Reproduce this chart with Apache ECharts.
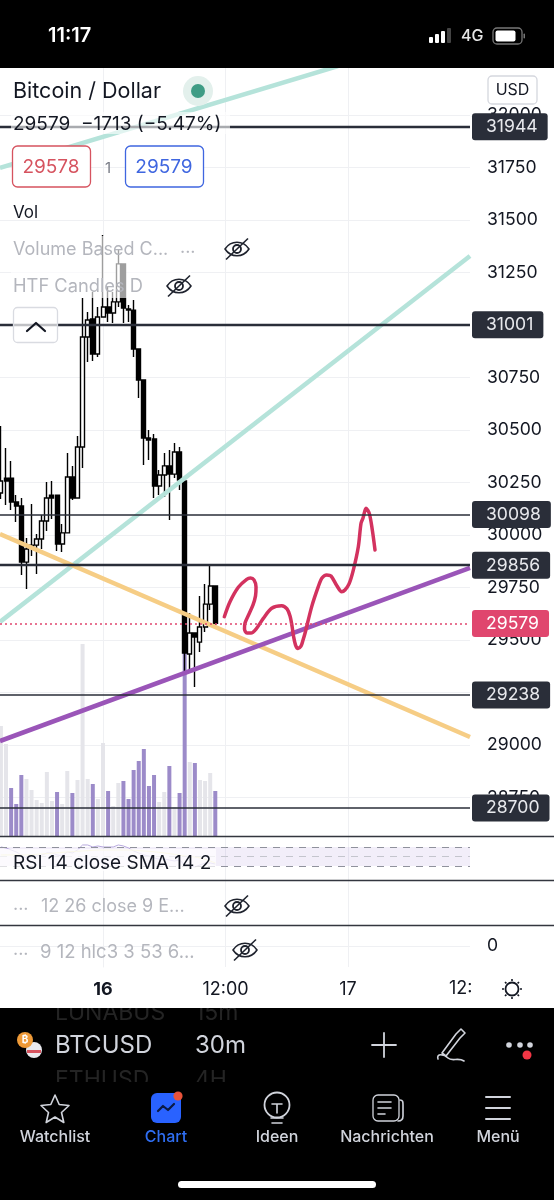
<!DOCTYPE html>
<html><head><meta charset="utf-8">
<style>html,body{margin:0;padding:0;background:#fff}#c{width:554px;height:1200px}</style>
<script src="https://cdn.jsdelivr.net/npm/echarts@6/dist/echarts.min.js"></script>
</head><body><div id="c"></div>
<script>
// bar index 0 = 16th 00:00, one bar = 30 minutes
const barIndex = [-20,-19,-18,-17,-16,-15,-14,-13,-12,-11,-10,-9,-8,-7,-6,-5,-4,-3,-2,-1,0,1,2,3,4,5,6,7,8,9,10,11,12,13,14,15,16,17,18,19,20,21,22];
const opens  = [30200,30271,30271,30157,30138,29871,29943,29952,29981,30067,30190,30190,29957,30010,30276,30176,30419,30943,31029,30862,31038,31086,31057,31110,31291,31076,31071,30886,30738,30462,30457,30233,30286,30329,30290,30395,30257,29433,29533,29490,29562,29671,29757];
const closes = [30257,30257,30157,30138,29871,29933,29952,29981,30067,30176,30176,29957,30010,30276,30176,30419,30943,31024,30862,31038,31086,31057,31110,31291,31081,31071,30886,30738,30462,30452,30233,30286,30329,30290,30395,30262,29438,29533,29514,29562,29671,29757,29579];
const lows   = [30171,30143,30119,30062,29810,29743,29900,29814,29933,30019,30076,29924,29919,30010,30167,30176,30319,30824,30829,30848,31038,31014,31010,31086,31010,31014,30848,30652,30333,30357,30176,30190,30181,30071,30271,30214,29343,29348,29276,29443,29538,29643,29571];
const highs  = [30519,30414,30352,30190,30176,29986,30148,30005,30095,30252,30257,30190,30052,30390,30329,30471,31129,31062,31157,31086,31429,31181,31157,31357,31291,31095,31119,30886,30738,30500,30481,30310,30390,30405,30438,30419,30257,29629,29533,29710,29767,29852,29757];
const volumes = [110,92,48,32,61,57,46,36,33,64,35,44,32,65,43,56,192,57,52,37,93,45,30,53,55,37,66,75,87,50,61,34,44,70,29,43,190,74,73,56,55,63,45];
const volumeSide = ['u','u','d','d','d','u','u','u','u','u','u','d','u','u','d','u','u','u','d','u','u','d','u','u','d','d','d','d','d','d','d','u','u','d','u','d','d','u','d','u','u','u','d'];
const priceTicks = [32000,31750,31500,31250,31000,30750,30500,30250,30000,29750,29500,29250,29000,28750];
const levelPrices = [31944,31001,30098,29856,29238,28700];
const levelWidths = [2.4,2.4,1.5,2.4,1.5,1.5];
const lastPrice = 29579;
const timeTicks = [0,24,48];
const timeLabels = ['16','12:00','17'];
const rsiX = [-20,-19,-18,-17,-16,-15,-14,-13,-12,-11,-10,-9,-8,-7,-6,-5,-4,-3,-2,-1,0,1,2,3,4,5,6,7,8,9,10,11,12,13,14,15,16,17,18,19,20,21,22];
const rsiValues = [70,67.9,63.7,59.5,53.2,46.8,48.9,51.1,53.2,57.4,57.4,53.2,51.1,59.5,57.4,63.7,74.2,74.2,70,72.1,70,70,70,74.2,72.1,67.9,61.6,57.4,53.2,51.1,46.8,44.7,44.7,42.6,40.5,42.6,32.1,30,27.9,32.1,36.3,36.3,34.2];
const rsiSmaX = [-20,-16,-12,-7,-4,0,4,8,12,16,19,22];
const rsiSmaValues = [53.2,53.2,55.3,59.5,61.6,63.7,63.7,61.6,57.4,51.1,46.8,36.3];
const tealLowerX = [-20.18,71.9], tealLowerY = [29586,31329];
const tealUpperX = [-20.18,46.04], tealUpperY = [31748,32233];
const yellowX = [-20.18,71.9], yellowY = [30005,29038];
const purpleX = [-20.18,71.9], purpleY = [29019,29843];
const sketchX = [23.77,24.88,26.51,28.15,28.9,29.58,29.98,29.88,29.39,28.51,27.82,27.72,28.21,29.0,29.98,31.41,33.05,35.01,36.05,36.64,37.03,37.32,37.72,38.2,38.79,39.19,39.58,40.89,42.18,42.9,43.83,44.67,45.85,46.77,47.4,48.2,49.04,50.02,50.55,50.94,51.53,52.17,52.76,53.29];
const sketchY = [29611,29682,29751,29789,29795,29786,29752,29710,29667,29619,29581,29552,29533,29533,29552,29603,29651,29663,29648,29614,29567,29519,29476,29460,29471,29500,29532,29659,29754,29795,29810,29805,29757,29730,29738,29767,29833,29944,30056,30081,30127,30103,30024,29929];

const FONT = 'Inter, "Noto Sans", sans-serif';
const zip = (a,b)=>a.map((v,i)=>[v,b[i]]);
const xExtent = {min:-20.18,max:71.9};
const gridLine = {show:true,lineStyle:{color:'#eff0f3',width:1}};
function xAxis(gridIndex, labels){
  return Object.assign({type:'value',gridIndex},xExtent,{
    axisLine:{show:false},
    axisTick:{show:false,customValues:timeTicks},
    splitLine:gridLine,
    axisLabel:labels?{show:true,customValues:timeTicks,margin:14,hideOverlap:false,color:'#131722',fontFamily:FONT,fontSize:18,
      formatter:v=>{const s=timeLabels[timeTicks.indexOf(v)];return v===0?'{b|'+s+'}':s;},
      rich:{b:{fontWeight:700,fontSize:18,fontFamily:FONT,color:'#131722'}}}
      :{show:false,customValues:timeTicks}
  });
}
function yEdge(gridIndex,min,max,extra){
  return Object.assign({type:'value',gridIndex,position:'right',min,max,
    axisLine:{show:true,lineStyle:{color:'#eff0f3',width:1}},axisTick:{show:false},splitLine:{show:false},axisLabel:{show:false}},extra||{});
}

// ---- page furniture ----
const G=[];
let shapeId=0;
const T=(text,x,y,size,fill,opt)=>G.push({type:'text',x,y:y+1,z:120,silent:true,style:{text,fill,font:(opt&&opt.w||400)+' '+size+'px '+FONT,textAlign:opt&&opt.a||'left',textVerticalAlign:'middle'}});
const R=(x,y,w,h,fill,r,stroke,z)=>G.push({type:'rect',z:z||110,silent:true,shape:{x,y,width:w,height:h,r:r||0},style:{fill:fill||'none',stroke:stroke||'none',lineWidth:stroke?1.3:0}});
const P=(d,x,y,stroke,lw,fill)=>{const name='icon'+(shapeId++);echarts.graphic.registerShape(name,echarts.graphic.extendPath(d,{}));G.push({type:name,z:125,silent:true,x,y,style:{fill:fill||'none',stroke:stroke||'none',lineWidth:lw||1.5,lineCap:'round',lineJoin:'round'}});};
const C=(x,y,r,fill,z,stroke)=>G.push({type:'circle',z:z||125,silent:true,shape:{cx:x,cy:y,r},style:{fill:fill||'none',stroke:stroke||'none',lineWidth:stroke?1.8:0}});
const L=(x1,y1,x2,y2,c,w,z)=>G.push({type:'line',z:z||115,silent:true,shape:{x1,y1,x2,y2},style:{stroke:c,lineWidth:w}});
const eye=(x,y)=>{P('M-12 0C-6 -9 6 -9 12 0C6 9 -6 9 -12 0Z',x,y,'#1e222d',1.6);C(x,y,4,null,125,'#1e222d');L(x-11,y+10.5,x+11,y-10.5,'#1e222d',1.6,125);};

// status bar + black frame
R(0,0,554,68,'#000',0,null,130);
T('11:17',48,35,20,'#fff',{w:600});G[G.length-1].z=131;
[[429,37,4,6],[435,34,4,9],[441,31,4,12],[447,28,4,15]].forEach((b,i)=>{R(b[0],b[1],b[2],b[3],i<3?'#fff':'#444',1,null,131);});
T('4G',461,35,16,'#e6e6e6',{w:500});G[G.length-1].z=131;
R(493,28,29,16,'none',4,'#777',131);R(495.5,30.5,20,11,'#fff',2,null,131);R(523.5,33.5,1.5,5,'#777',1,null,131);

// translucent label backdrops that dim what lies under them
R(11,112,219,22,'rgba(255,255,255,0.6)');
R(11,236,180,62,'rgba(255,255,255,0.62)');
R(0,849,216,22,'rgba(255,255,255,0.72)');
T('Bitcoin / Dollar',13,91,21.5,'#131722',{w:400});
C(198,91,15,'#e3f0ec',112);C(198,91,7,'#3f9c85',113);
T('29579  \u22121713 (\u22125.47%)',13,123,19,'#131722');
R(12.5,146,78,41,'#fff',5,'#d6535f');T('29578',51,166,19,'#d6535f',{a:'center'});
T('1',108,167,15,'#787b86',{a:'center'});
R(125.5,146,78,41,'#fff',5,'#3f66e0');T('29579',164,166,19,'#3f66e0',{a:'center'});
T('Vol',13,212,17,'#131722');
T('Volume Based C...',13,249,18,'#b4b6bd');T('...',180,247,18,'#b4b6bd');eye(237,249);
T('HTF Candles D',13,286,18.3,'#b4b6bd');eye(179,286);
R(13.5,307.5,44,35,'rgba(255,255,255,0.7)',4,'#d9dbe1');P('M-9 5L0 -3L9 5',36,326,'#131722',2.2);
R(488,76,49,28,'#fff',4,'#d5d7de');T('USD',512.5,89,16,'#131722',{a:'center'});

// pane separators
[836.5,880.5,925.5].forEach(y=>L(0,y,554,y,'#33363f',1.4));
T('RSI 14 close SMA 14 2',13,862,19,'#131722');
T('...',13,904,18,'#b4b6bd');T('12 26 close 9 E...',41,906,18,'#b4b6bd');eye(237,906);
T('...',13,949,18,'#b4b6bd');T('9 12 hlc3 3 53 6...',40,951,18.5,'#b4b6bd');eye(245,950);
T('12:',449,988,18,'#131722');
C(512,989,6.5,null,125,'#131722');
[[0,-10],[7,-7],[10,0],[7,7],[0,10],[-7,7],[-10,0],[-7,-7]].forEach(p=>L(512+p[0]*.8,989+p[1]*.8,512+p[0],989+p[1],'#131722',1.6,125));

// bottom toolbar + navigation
R(0,1008,554,192,'#000',0,null,100);
T('LUNABUS',55,1012,23,'#242424',{});T('15m',195,1012,23,'#242424',{});
T('ETHUSD',55,1079,23,'#242424',{});T('4H',195,1079,23,'#242424',{});
R(50,999,220,9,'#fff',0,null,121);
R(0,1082,554,118,'#000',0,null,121);
T('BTCUSD',55,1045,24,'#d1d4dc',{});T('30m',195,1045,24,'#d1d4dc',{});
C(34,1050,8,'#e9e9ee');R(27,1050,14,3,'#d6535f',0,null,126);C(25,1040,8,'#ee9a38',127);T('\u20bf',25,1039,10,'#fff',{a:'center',w:700});G[G.length-1].z=128;
P('M-12 0H12M0 -12V12',384,1045,'#d1d4dc',1.8);
P('M-10 10L4 -9L9 -14L13 -10L8 -5L-6 13Z M-14 16C-16 10 -8 11 -4 15C0 19 6 14 12 18',452,1043,'#d1d4dc',1.6);
[509,520,530].forEach(x=>C(x,1045,2.8,'#d1d4dc'));C(527,1055,4.5,'#f23645');
P('M0 -14L4.2 -4.5L14 -3.5L6.5 3.5L8.8 13.5L0 8L-8.8 13.5L-6.5 3.5L-14 -3.5L-4.2 -4.5Z',55,1109,'#d1d4dc',1.6);
R(151,1093,30,30,'#2962ff',6,null,122);P('M-8 3L-3 -2L2 2L8 -4',166,1108,'#0b1a44',2.2);C(178,1096,4.6,'#e8533a',126);
C(277,1105,12.5,null,125,'#d1d4dc');P('M-5 -1H5M0 -1V8M-6 13H6M-5 18H5',277,1105,'#d1d4dc',1.6);
R(373,1095,26,26,'none',5,'#d1d4dc',125);P('M-7 -6H6M-7 0H6M-7 6H0',385,1108,'#d1d4dc',1.6);P('M13 -8C16 -8 16 -6 16 -3V8C16 11 14 13 11 13',387,1108,'#d1d4dc',1.6);
P('M-12 -11H12M-12 0H12M-12 11H12',498,1108,'#d1d4dc',2);
[['Watchlist',55,'#d1d4dc'],['Chart',166,'#2f6ef2'],['Ideen',277,'#d1d4dc'],['Nachrichten',387,'#d1d4dc'],['Men\u00fc',498,'#d1d4dc']].forEach(n=>{T(n[0],n[1],1136.5,16,n[2],{a:'center',w:500});G[G.length-1].z=126;});
R(178,1181,198,7,'#fff',3.5,null,125);

// ---- chart ----
const tag=(p,bg,fg)=>({show:true,position:'end',distance:2,formatter:String(p),color:fg,fontFamily:FONT,fontSize:17.6,backgroundColor:bg,padding:[5,10,4,14],borderRadius:3});
const option = {
  animation:false, backgroundColor:'#fff', textStyle:{fontFamily:FONT},
  grid:[
    {left:0,width:470,top:68,height:768},
    {left:0,width:470,top:837,height:43},
    {left:0,width:470,top:880,height:45},
    {left:0,width:470,top:925,height:42}
  ],
  xAxis:[xAxis(0),xAxis(1),xAxis(2),xAxis(3,true)],
  yAxis:[
    yEdge(0,28566.7,32223.8,{
      axisLabel:{show:true,customValues:priceTicks,margin:17,color:'#131722',fontFamily:FONT,fontSize:17.6,hideOverlap:false,showMinLabel:true,showMaxLabel:true,formatter:v=>String(v)},
      axisTick:{show:false,customValues:priceTicks},splitLine:gridLine}),
    yEdge(0,0,768,{show:false}),
    yEdge(1,0.5,91),
    yEdge(2,-1,1),
    yEdge(3,-1,1,{axisLabel:{show:true,customValues:[0],margin:17,color:'#131722',fontFamily:FONT,fontSize:17.6},axisTick:{show:false,customValues:[0]},splitLine:gridLine})
  ],
  series:[
    {type:'bar',name:'Volume',xAxisIndex:0,yAxisIndex:1,barWidth:4,z:1,silent:true,
      data:barIndex.map((x,i)=>({value:[x,volumes[i]],itemStyle:{color:volumeSide[i]==='d'?'#9c8bc9':'#e5e5ea'}}))},
    {type:'candlestick',name:'BTCUSD',xAxisIndex:0,yAxisIndex:0,barWidth:4.5,z:2,silent:true,
      itemStyle:{color:'#fff',color0:'#000',borderColor:'#000',borderColor0:'#000',borderWidth:1.4},
      data:barIndex.map((x,i)=>[x,opens[i],closes[i],lows[i],highs[i]])},
    {type:'line',name:'Levels',xAxisIndex:0,yAxisIndex:0,z:4,showSymbol:false,silent:true,data:[],
      markLine:{silent:true,symbol:'none',animation:false,z:20,
        data:levelPrices.map((p,i)=>({yAxis:p,lineStyle:{color:'#2a2e39',width:levelWidths[i],type:'solid'},label:tag(p,'#2a2e39','#e8e9ed')}))
        .concat([{yAxis:lastPrice,lineStyle:{color:'#e0466e',width:1.5,type:[2,3]},label:tag(lastPrice,'#e0466e','#fff')}])}},
    {type:'line',name:'Teal lower',xAxisIndex:0,yAxisIndex:0,z:3,showSymbol:false,silent:true,lineStyle:{color:'#b5e3da',width:4.5},data:zip(tealLowerX,tealLowerY)},
    {type:'line',name:'Teal upper',xAxisIndex:0,yAxisIndex:0,z:3,showSymbol:false,silent:true,lineStyle:{color:'#b5e3da',width:4.5},data:zip(tealUpperX,tealUpperY)},
    {type:'line',name:'Yellow',xAxisIndex:0,yAxisIndex:0,z:3,showSymbol:false,silent:true,lineStyle:{color:'#f6cd85',width:4.5},data:zip(yellowX,yellowY)},
    {type:'line',name:'Purple',xAxisIndex:0,yAxisIndex:0,z:3,showSymbol:false,silent:true,lineStyle:{color:'#9a55b8',width:4.5},data:zip(purpleX,purpleY)},
    {type:'line',name:'Sketch',xAxisIndex:0,yAxisIndex:0,z:5,showSymbol:false,silent:true,smooth:0.3,lineStyle:{color:'#d3325f',width:3.5,cap:'round'},data:zip(sketchX,sketchY)},
    {type:'line',name:'RSI',xAxisIndex:1,yAxisIndex:2,z:3,showSymbol:false,silent:true,lineStyle:{color:'#b7a8de',width:1},data:zip(rsiX,rsiValues),
      markArea:{silent:true,itemStyle:{color:'rgba(126,87,194,0.1)'},data:[[{yAxis:30},{yAxis:70}]]},
      markLine:{silent:true,symbol:'none',label:{show:false},lineStyle:{color:'#8f919c',type:[7,6],width:1.1},data:[{yAxis:70},{yAxis:50,lineStyle:{color:'#c4c5cd',type:[7,6],width:1}},{yAxis:30}]}},
    {type:'line',name:'RSI SMA',xAxisIndex:1,yAxisIndex:2,z:3,showSymbol:false,silent:true,smooth:true,lineStyle:{color:'#efe6ab',width:1},data:zip(rsiSmaX,rsiSmaValues)}
  ],
  graphic:{elements:G}
};
echarts.init(document.getElementById('c')).setOption(option);
</script></body></html>
